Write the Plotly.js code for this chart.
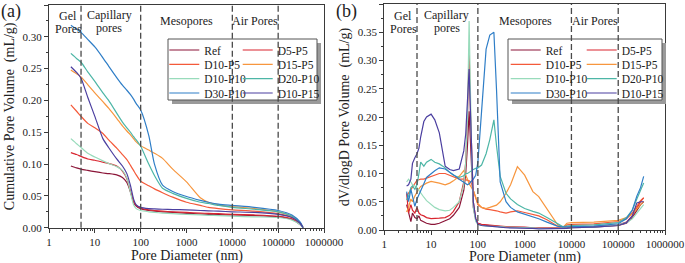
<!DOCTYPE html>
<html><head><meta charset="utf-8">
<script src="https://cdn.plot.ly/plotly-3.0.1.min.js"></script>
<style>html,body{margin:0;padding:0;background:#fff}</style>
</head><body><div id="chart" style="width:685px;height:263px"></div>
<script>
// ---------- data ----------
const seriesNames = ['Ref','D5-P5','D10-P5','D15-P5','D10-P10','D20-P10','D30-P10','D10-P15'];
const seriesColors = ['#8B1538','#D9252F','#F45A3A','#F7963E','#98DBBB','#4DB6A6','#2F7EC7','#4B3FA0'];

// (a) cumulative pore volume (mL/g) vs pore diameter (nm)
const diamCum = [3,4,5,7,10,15,20,30,40,50,60,70,80,100,150,200,300,500,1000,2000,3000,5000,10000,30000,100000,200000,300000,350000];
const cumRef    = [.097,.094,.092,.090,.088,.086,.085,.083,.079,.071,.056,.040,.034,.030,.027,.026,.025,.024,.0225,.0215,.021,.0205,.020,.019,.017,.013,.005,0];
const cumD5P5   = [.118,.115,.112,.108,.106,.103,.101,.097,.089,.077,.057,.041,.035,.031,.028,.027,.026,.025,.024,.023,.0225,.022,.021,.020,.018,.014,.006,0];
const cumD10P5  = [.193,.183,.175,.164,.157,.148,.138,.125,.115,.107,.098,.090,.083,.073,.066,.061,.055,.048,.040,.035,.032,.030,.028,.026,.022,.016,.007,0];
const cumD15P5  = [.248,.242,.237,.225,.212,.198,.188,.172,.160,.152,.146,.140,.135,.129,.122,.117,.109,.092,.072,.047,.040,.036,.033,.030,.025,.018,.008,0];
const cumD10P10 = [.140,.132,.126,.117,.111,.105,.101,.096,.090,.078,.055,.036,.030,.027,.025,.024,.023,.022,.021,.020,.0195,.019,.018,.017,.016,.012,.005,0];
const cumD20P10 = [.274,.266,.260,.245,.230,.212,.200,.180,.166,.157,.150,.143,.138,.128,.100,.082,.062,.054,.046,.040,.038,.035,.032,.029,.025,.018,.008,0];
const cumD30P10 = [.318,.312,.307,.296,.284,.267,.254,.236,.224,.216,.209,.202,.195,.185,.145,.100,.067,.057,.049,.043,.040,.037,.035,.032,.027,.020,.009,0];
const cumD10P15 = [.253,.244,.235,.205,.175,.140,.126,.108,.097,.085,.066,.045,.036,.032,.030,.0295,.029,.0285,.028,.027,.0265,.026,.025,.024,.021,.016,.007,0];

// (b) dV/dlogD pore volume (mL/g) vs pore diameter (nm)
const diamDiff = [3,3.3,3.7,4,4.5,5,5.5,6,7,8,10,12,15,20,25,30,40,50,55,60,65,70,75,80,90,100,120,150,180,220,250,300,400,500,700,1000,1500,2000,3000,5000,6500,8000,10000,30000,100000,150000,200000,250000,300000,350000];
const difRef    = [.045,.030,.015,.030,.022,.020,.025,.017,.014,.012,.010,.010,.012,.016,.020,.026,.040,.070,.100,.150,.210,.150,.080,.040,.018,.012,.009,.008,.007,.007,.006,.006,.005,.005,.004,.004,.003,.003,.002,.002,.002,.003,.004,.005,.008,.012,.022,.035,.045,.050];
const difD5P5   = [.065,.030,.045,.035,.030,.040,.030,.027,.025,.022,.020,.020,.021,.022,.026,.033,.050,.085,.120,.200,.320,.200,.100,.050,.020,.012,.010,.009,.008,.008,.007,.007,.006,.006,.005,.005,.004,.004,.003,.003,.003,.004,.005,.006,.009,.014,.025,.040,.050,.057];
const difD10P5  = [.060,.065,.070,.075,.082,.088,.089,.090,.090,.092,.095,.098,.100,.100,.097,.094,.090,.090,.089,.088,.087,.085,.080,.070,.055,.045,.040,.037,.036,.035,.034,.032,.030,.032,.034,.031,.028,.025,.018,.007,.005,.009,.010,.011,.015,.020,.030,.042,.052,.057];
const difD15P5  = [.032,.040,.055,.050,.060,.068,.073,.077,.081,.083,.086,.085,.083,.080,.083,.087,.095,.105,.098,.090,.082,.077,.074,.070,.058,.047,.040,.038,.040,.042,.044,.050,.065,.080,.112,.097,.068,.059,.038,.010,.004,.012,.013,.014,.017,.022,.028,.038,.045,.050];
const difD10P10 = [.085,.090,.085,.080,.078,.075,.070,.065,.058,.052,.045,.040,.036,.034,.035,.040,.050,.080,.120,.200,.370,.220,.100,.040,.015,.010,.008,.007,.007,.006,.006,.006,.005,.005,.005,.004,.004,.003,.003,.002,.002,.003,.004,.005,.009,.013,.020,.030,.040,.045];
const difD20P10 = [.053,.060,.075,.078,.072,.080,.100,.120,.113,.120,.125,.120,.117,.110,.102,.097,.093,.096,.100,.100,.102,.104,.106,.107,.109,.110,.115,.135,.160,.195,.150,.095,.065,.055,.045,.038,.033,.030,.022,.012,.006,.007,.008,.009,.013,.022,.035,.055,.070,.083];
const difD30P10 = [.068,.050,.072,.060,.042,.055,.062,.070,.082,.093,.100,.105,.110,.108,.102,.098,.090,.085,.082,.080,.082,.085,.088,.090,.097,.120,.210,.320,.345,.350,.250,.085,.050,.040,.032,.028,.024,.020,.014,.007,.005,.006,.006,.007,.011,.020,.035,.060,.075,.095];
const difD10P15 = [.078,.080,.090,.118,.128,.135,.145,.165,.192,.200,.205,.195,.172,.113,.107,.105,.108,.140,.170,.220,.285,.200,.110,.050,.020,.010,.008,.007,.006,.006,.005,.005,.004,.004,.004,.003,.003,.002,.002,.002,.002,.003,.004,.005,.008,.013,.025,.048,.050,.050];

const cumSeries  = [cumRef,cumD5P5,cumD10P5,cumD15P5,cumD10P10,cumD20P10,cumD30P10,cumD10P15];
const diffSeries = [difRef,difD5P5,difD10P5,difD15P5,difD10P10,difD20P10,difD30P10,difD10P15];

const xTickVals = [1,10,100,1000,10000,100000,1000000];
const xTickText = ['1','10','100','1000','10000','100000','1000000'];
const poreBounds = [5,100,10000,100000];

// ---------- layout helpers ----------
const W = 685, H = 263;
const FONT = 'Liberation Serif, Times New Roman, serif';
const px = v => v / W, py = v => 1 - v / H;

// legend grid (pixel positions of each entry origin): 2 columns x 4 rows per panel
const legColsA = [164.3, 237.7], legColsB = [505.7, 581.7];
const legRowTops = [35.5, 49.8, 64.2, 78.5];

const traces = [];
const legends = {};
let legCount = 0;
function nextLegend(colX, rowTop) {
  legCount++;
  const id = legCount === 1 ? 'legend' : 'legend' + legCount;
  legends[id] = {orientation:'v', x: px(colX), xanchor:'left', y: py(rowTop), yanchor:'top',
    bgcolor:'rgba(0,0,0,0)', borderwidth:0, itemwidth:30,
    font:{family:FONT, size:11.5, color:'#222'}, tracegroupgap:0};
  return id;
}
seriesNames.forEach((n, i) => {
  traces.push({x: diamCum, y: cumSeries[i], xaxis:'x', yaxis:'y', name:n, mode:'lines',
    line:{color:seriesColors[i], width:1.2, shape:'spline', smoothing:0.6},
    legend: nextLegend(legColsA[i % 2], legRowTops[Math.floor(i/2)]), hoverinfo:'skip'});
});
seriesNames.forEach((n, i) => {
  traces.push({x: diamDiff, y: diffSeries[i], xaxis:'x2', yaxis:'y2', name:n, mode:'lines',
    line:{color:seriesColors[i], width:1.2},
    legend: nextLegend(legColsB[i % 2], legRowTops[Math.floor(i/2)]), hoverinfo:'skip'});
});

const axisCommon = {type:'log', range:[0,6], tickvals:xTickVals, ticktext:xTickText,
  showline:true, mirror:true, linecolor:'#3a3a3a', linewidth:1, ticks:'outside', ticklen:4, tickcolor:'#3a3a3a',
  showgrid:false, zeroline:false, tickfont:{family:FONT, size:11, color:'#222'},
  minor:{ticks:'outside', ticklen:2, tickcolor:'#3a3a3a', dtick:'D1', showgrid:false}};
const yCommon = {showline:true, mirror:true, linecolor:'#3a3a3a', linewidth:1, ticks:'outside', ticklen:4, tickcolor:'#3a3a3a',
  showgrid:false, zeroline:false, dtick:0.05, tickformat:'.2f', tickfont:{family:FONT, size:11, color:'#222'},
  minor:{ticks:'outside', ticklen:2, tickcolor:'#3a3a3a', dtick:0.025, showgrid:false}};

const shapes = [];
function legendBox(x0, y0, x1, y1) {
  shapes.push({type:'rect', xref:'paper', yref:'paper', x0:px(x0+4), x1:px(x1+4), y0:py(y0+4), y1:py(y1+4),
    fillcolor:'#9a9a9a', line:{width:0}, layer:'above'});
  shapes.push({type:'rect', xref:'paper', yref:'paper', x0:px(x0), x1:px(x1), y0:py(y0), y1:py(y1),
    fillcolor:'#fff', line:{color:'#555', width:1}, layer:'above'});
}
legendBox(168, 39, 317, 100);
legendBox(508, 39, 662, 100);
poreBounds.forEach(b => {
  ['x','x2'].forEach((xa, k) => {
    shapes.push({type:'line', xref:xa, yref: k ? 'y2 domain' : 'y domain', x0:b, x1:b, y0:0, y1:1,
      line:{color:'#4a4a4a', width:1.3, dash:'6px,3px'}, layer:'above'});
  });
});

function ann(text, xPx, yPx, size) {
  return {text, xref:'paper', yref:'paper', x:px(xPx), y:py(yPx), showarrow:false, borderpad:0,
    xanchor:'center', yanchor:'middle', font:{family:FONT, size:size, color:'#222'}};
}
const annotations = [
  ann('(a)', 11, 12, 18), ann('(b)', 346, 12, 18),
  ann('Gel', 68, 16, 12), ann('Pores', 68, 29, 12),
  ann('Capillary', 109, 15, 12), ann('pores', 109, 28, 12),
  ann('Mesopores', 186, 21, 12), ann('Air Pores', 255, 21, 12),
  ann('Gel', 403, 16, 12), ann('Pores', 403, 29, 12),
  ann('Capillary', 447, 15, 12), ann('pores', 447, 28, 12),
  ann('Mesopores', 525, 21, 12), ann('Air Pores', 595, 21, 12),
  ann('Pore Diameter (nm)', 187, 255.5, 14), ann('Pore Diameter (nm)', 525, 256.5, 14)
];

const titleFont = {family:FONT, size:14, color:'#222'};
const layout = Object.assign({
  width:W, height:H, margin:{l:0,r:0,t:0,b:0}, paper_bgcolor:'#fff', plot_bgcolor:'#fff',
  showlegend:true,
  xaxis: Object.assign({}, axisCommon, {domain:[px(49), px(324)], anchor:'y'}),
  yaxis: Object.assign({}, yCommon, {domain:[1-227.7/H, 1-5/H], range:[0,0.35], anchor:'x',
    title:{text:'Cumulative Pore Volume  (mL/g)', font:titleFont, standoff:4}}),
  xaxis2: Object.assign({}, axisCommon, {domain:[px(384.3), px(665)], anchor:'y2'}),
  yaxis2: Object.assign({}, yCommon, {domain:[1-230/H, 1-4/H], range:[0,0.40], anchor:'x2',
    title:{text:'dV/dlogD Pore Volume  (mL/g)', font:titleFont, standoff:4}}),
  shapes, annotations
}, legends);

Plotly.newPlot('chart', traces, layout, {staticPlot:true, displayModeBar:false});
</script>
</body></html>
